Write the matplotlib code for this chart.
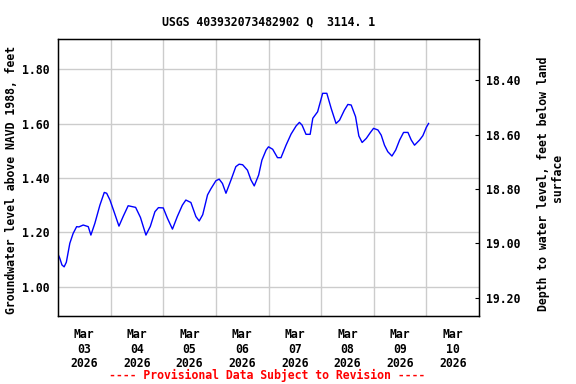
import matplotlib
matplotlib.use("Agg")
import matplotlib.pyplot as plt
from matplotlib.ticker import FixedLocator

# Hours since 2026-03-03 00:00
hours = [0, 0.8, 1.8, 2.8, 3.8, 5.4, 6.9, 8.5, 9.5, 11.5, 13.8, 15.0, 16.8, 19.1, 21.1, 22.2,
         23.7, 25.6, 27.8, 29.8, 32.0, 33.7, 35.4, 37.6, 38.9, 40.1, 42.1, 44.2, 45.8, 48.0,
         49.9, 52.2, 54.4, 56.7, 58.3, 60.6, 62.9, 64.4, 66.0, 68.2, 69.7, 72.0, 73.5, 75.0,
         76.6, 78.9, 81.1, 82.6, 84.2, 86.4, 88.0, 89.5, 91.5, 93.0, 94.9, 96.0, 97.9, 100.1,
         101.7, 104.0, 106.3, 108.6, 110.1, 111.3, 113.1, 115.0, 116.2, 118.4, 120.7, 122.6,
         124.6, 126.8, 128.4, 130.6, 132.2, 133.7, 135.7, 137.2, 138.7, 140.6, 142.4, 143.9,
         145.9, 147.4, 148.9, 150.4, 152.3, 154.0, 155.8, 157.6, 159.6, 161.1, 162.6, 164.9,
         166.4, 168.0, 169.0]
level = [1.12, 1.105, 1.08, 1.073, 1.09, 1.16, 1.196, 1.221, 1.22, 1.227, 1.221, 1.19, 1.233,
         1.30, 1.347, 1.344, 1.319, 1.275, 1.223, 1.26, 1.298, 1.295, 1.292, 1.255, 1.221, 1.19,
         1.222, 1.276, 1.291, 1.29, 1.252, 1.212, 1.258, 1.30, 1.319, 1.31, 1.258, 1.242, 1.265,
         1.338, 1.36, 1.39, 1.396, 1.38, 1.344, 1.393, 1.442, 1.451, 1.449, 1.429, 1.393, 1.371,
         1.411, 1.466, 1.503, 1.515, 1.506, 1.475, 1.475, 1.521, 1.562, 1.592, 1.605, 1.595,
         1.561, 1.561, 1.62, 1.644, 1.712, 1.712, 1.656, 1.601, 1.613, 1.65, 1.671, 1.669,
         1.626, 1.555, 1.531, 1.546, 1.567, 1.583, 1.577, 1.558, 1.521, 1.497, 1.481, 1.503,
         1.54, 1.568, 1.568, 1.54, 1.521, 1.54, 1.556, 1.587, 1.601]

left_ticks = [1.00, 1.20, 1.40, 1.60, 1.80]
right_ticks = [18.40, 18.60, 18.80, 19.00, 19.20]
offset = 20.16
x_labels = ["Mar\n03\n2026", "Mar\n04\n2026", "Mar\n05\n2026", "Mar\n06\n2026",
            "Mar\n07\n2026", "Mar\n08\n2026", "Mar\n09\n2026", "Mar\n10\n2026"]

FONT = "DejaVu Sans Mono"
FS = 8.3
plt.rcParams['font.family'] = FONT
plt.rcParams['font.weight'] = 'bold'

fig = plt.figure(figsize=(5.76, 3.84), dpi=100)
ax = fig.add_axes([58/576, 1-316/384, (479-58)/576, (316-39)/384])

ax.plot(hours, level, color="#0000ff", linewidth=1.0)

ax.set_xlim(0, 192)
ax.set_ylim(0.892, 1.912)

ax.xaxis.set_major_locator(FixedLocator([12 + 24*i for i in range(8)]))
ax.set_xticklabels(x_labels, fontsize=FS, fontweight='bold', linespacing=1.12)
ax.xaxis.set_minor_locator(FixedLocator([24*i for i in range(1, 8)]))
ax.tick_params(axis='x', which='major', length=0, pad=9)
ax.tick_params(axis='x', which='minor', length=0)
ax.grid(True, which='minor', axis='x', color='#cccccc', linewidth=1)

ax.set_yticks(left_ticks)
ax.set_yticklabels([f"{v:.2f}" for v in left_ticks], fontsize=FS, fontweight='bold')
ax.tick_params(axis='y', length=0, pad=6)
ax.grid(True, which='major', axis='y', color='#cccccc', linewidth=1)
ax.set_axisbelow(True)

for s in ax.spines.values():
    s.set_linewidth(1.0)
    s.set_color('black')

ax2 = ax.twinx()
lo, hi = ax.get_ylim()
ax2.set_ylim(offset - lo, offset - hi)
ax2.set_yticks(right_ticks)
ax2.set_yticklabels([f"{v:.2f}" for v in right_ticks], fontsize=FS, fontweight='bold')
ax2.tick_params(axis='y', direction='in', length=3, pad=5)

fig.text(269/576, 1-22/384, "USGS 403932073482902 Q  3114. 1", ha='center', va='center',
         fontsize=FS, fontweight='bold')
fig.text(12/576, 1-180/384, "Groundwater level above NAVD 1988, feet", rotation=90,
         ha='center', va='center', fontsize=FS, fontweight='bold')
fig.text(543/576, 1-184/384, "Depth to water level, feet below land", rotation=90,
         ha='center', va='center', fontsize=FS, fontweight='bold')
fig.text(557/576, 1-178/384, "surface", rotation=90,
         ha='center', va='center', fontsize=FS, fontweight='bold')
fig.text(267/576, 1-375/384, "---- Provisional Data Subject to Revision ----", ha='center',
         va='center', fontsize=FS, fontweight='bold', color='red')

fig.savefig("out.png", dpi=100)
